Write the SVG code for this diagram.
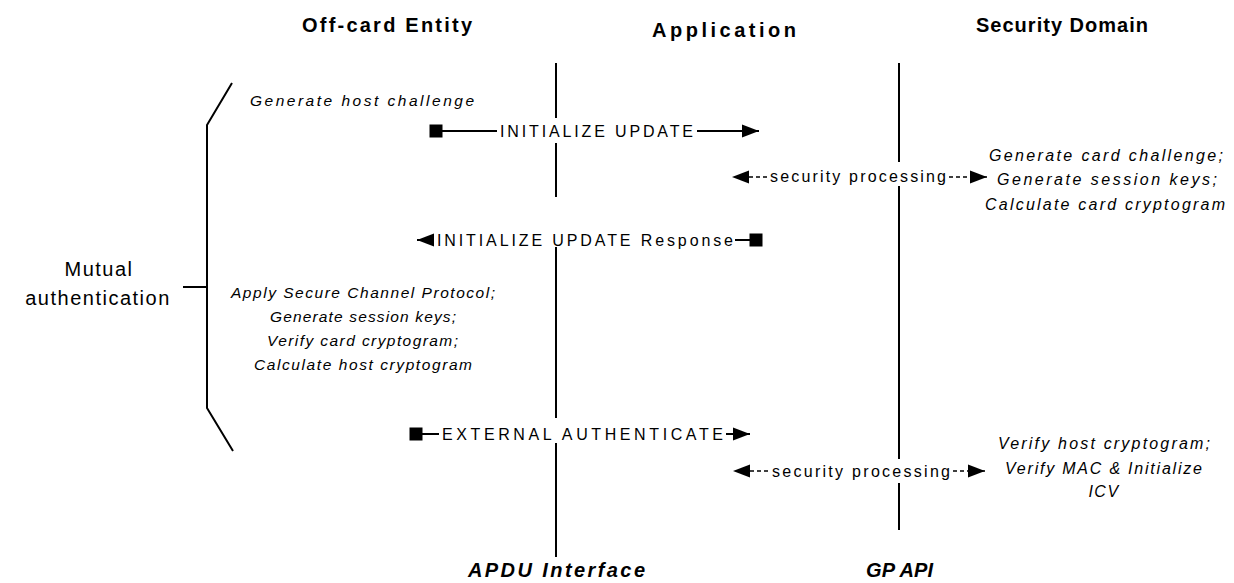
<svg xmlns="http://www.w3.org/2000/svg" width="1234" height="583" viewBox="0 0 1234 583">
<style>
.hdr{font-family:"Liberation Sans",Arial,sans-serif;font-weight:bold;font-size:20px;fill:#000}
.ftr{font-family:"Liberation Sans",Arial,sans-serif;font-weight:bold;font-style:italic;font-size:20px;fill:#000}
.lbl{font-family:"Liberation Sans",Arial,sans-serif;font-size:16px;fill:#000}
.big{font-family:"Liberation Sans",Arial,sans-serif;font-size:20px;fill:#000;letter-spacing:1.5px}
.it{font-family:"Liberation Sans",Arial,sans-serif;font-style:italic;font-size:15.5px;fill:#000}
.itr{font-family:"Liberation Sans",Arial,sans-serif;font-style:italic;font-size:16px;fill:#000}
.ln{stroke:#000;stroke-width:2;fill:none}
.dash{stroke:#000;stroke-width:1.5;fill:none;stroke-dasharray:4 3}
</style>
<defs>
<marker id="arr" markerUnits="userSpaceOnUse" markerWidth="18" markerHeight="14" refX="17" refY="7" orient="auto" overflow="visible">
<path d="M0,0.5 L17,7 L0,13.5 Z" fill="#000"/>
</marker>
<marker id="sq" markerUnits="userSpaceOnUse" markerWidth="13" markerHeight="13" refX="6.5" refY="6.5" orient="auto" overflow="visible">
<rect x="0" y="0" width="13" height="13" fill="#000"/>
</marker>
</defs>
<rect width="1234" height="583" fill="#fff"/>

<g id="headers">
<text class="hdr" x="302" y="32" textLength="170" lengthAdjust="spacing">Off-card Entity</text>
<text class="hdr" x="652" y="37" textLength="144" lengthAdjust="spacing">Application</text>
<text class="hdr" x="976" y="32" textLength="172" lengthAdjust="spacing">Security Domain</text>
<text class="ftr" x="468" y="577" textLength="177" lengthAdjust="spacing">APDU Interface</text>
<text class="ftr" x="866" y="577" textLength="67" lengthAdjust="spacing">GP API</text>
</g>

<g id="lifelines">
<path class="ln" d="M556,63 V118 M556,143 V197 M556,247 V418 M556,443 V557"/>
<path class="ln" d="M899,63 V162 M899,186 V459 M899,483 V530"/>
</g>

<g id="mutual-auth">
<path class="ln" d="M232,83 L207,125 V408 L233,451 M183,287 H207"/>
<text class="big" x="99" y="276" text-anchor="middle">Mutual</text>
<text class="big" x="98" y="305" text-anchor="middle">authentication</text>
</g>

<g id="offcard-notes">
<text class="it" x="250" y="106" textLength="224" lengthAdjust="spacing">Generate host challenge</text>
<text class="it" x="231" y="298" textLength="264" lengthAdjust="spacing">Apply Secure Channel Protocol;</text>
<text class="it" x="270" y="322" textLength="186" lengthAdjust="spacing">Generate session keys;</text>
<text class="it" x="267" y="346" textLength="191" lengthAdjust="spacing">Verify card cryptogram;</text>
<text class="it" x="254" y="370" textLength="218" lengthAdjust="spacing">Calculate host cryptogram</text>
</g>

<g id="sd-notes-1">
<text class="itr" x="989" y="161" textLength="234" lengthAdjust="spacing">Generate card challenge;</text>
<text class="itr" x="997" y="185" textLength="220" lengthAdjust="spacing">Generate session keys;</text>
<text class="itr" x="985" y="210" textLength="240" lengthAdjust="spacing">Calculate card cryptogram</text>
</g>

<g id="sd-notes-2">
<text class="itr" x="998" y="449" textLength="212" lengthAdjust="spacing">Verify host cryptogram;</text>
<text class="itr" x="1005" y="474" textLength="197" lengthAdjust="spacing">Verify MAC &amp; Initialize</text>
<text class="itr" x="1104" y="497" text-anchor="middle" letter-spacing="1.5">ICV</text>
</g>

<g id="connectors">
<g id="init-update">
<path class="ln" d="M436,131 H497" marker-start="url(#sq)"/>
<text class="lbl" x="500" y="137" textLength="193" lengthAdjust="spacing">INITIALIZE UPDATE</text>
<path class="ln" d="M697,131 H759" marker-end="url(#arr)"/>
</g>
<g id="sec-proc-1">
<path class="dash" d="M767,177 H732" marker-end="url(#arr)"/>
<text class="lbl" x="770" y="182" textLength="176" lengthAdjust="spacing">security processing</text>
<path class="dash" d="M949,177 H987" marker-end="url(#arr)"/>
</g>
<g id="init-update-resp">
<path class="ln" d="M434,240 H417" marker-end="url(#arr)"/>
<text class="lbl" x="437" y="246" textLength="296" lengthAdjust="spacing">INITIALIZE UPDATE Response</text>
<path class="ln" d="M735,240 H756" marker-end="url(#sq)"/>
</g>
<g id="ext-auth">
<path class="ln" d="M416,434 H439" marker-start="url(#sq)"/>
<text class="lbl" x="442" y="440" textLength="281" lengthAdjust="spacing">EXTERNAL AUTHENTICATE</text>
<path class="ln" d="M726,434 H750" marker-end="url(#arr)"/>
</g>
<g id="sec-proc-2">
<path class="dash" d="M768,471 H733" marker-end="url(#arr)"/>
<text class="lbl" x="772" y="477" textLength="178" lengthAdjust="spacing">security processing</text>
<path class="dash" d="M953,471 H985" marker-end="url(#arr)"/>
</g>
</g>
</svg>
